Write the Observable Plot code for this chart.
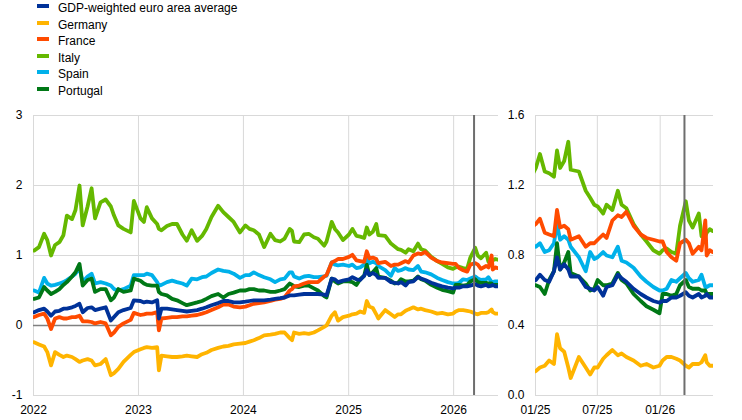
<!DOCTYPE html>
<html>
<head>
<meta charset="utf-8">
<script src="https://cdn.jsdelivr.net/npm/d3@7"></script>
<script src="https://cdn.jsdelivr.net/npm/@observablehq/plot@0.6"></script>
<style>
  html, body { margin: 0; padding: 0; background: #fff; }
  #wrap { position: relative; width: 742px; height: 420px; font-family: "Liberation Sans", Arial, sans-serif; font-size: 12px; color: #000; }
  #legend { position: absolute; left: 0; top: 0; width: 742px; height: 100px; }
  .row { position: absolute; left: 58px; height: 16.5px; line-height: 16.5px; white-space: nowrap; }
  .sw { position: absolute; left: 37px; width: 12px; height: 4px; }
  #charts { position: absolute; left: 0; top: 100px; display: flex; }
</style>
</head>
<body>
<div id="wrap">
  <div id="legend"></div>
  <div id="charts"></div>
</div>
<script>
const seriesNames = ["GDP-weighted euro area average", "Germany", "France", "Italy", "Spain", "Portugal"];
const seriesColors = ["#003299", "#FFB400", "#FF4B00", "#65B800", "#00B1EA", "#007816"];

const dates = [
"2022-01-03","2022-01-20","2022-02-07","2022-02-18","2022-03-03","2022-03-17","2022-04-01","2022-04-15","2022-04-27","2022-05-15",
"2022-05-27","2022-06-10","2022-06-21","2022-07-08","2022-07-22","2022-08-03","2022-08-22","2022-09-09","2022-09-27","2022-10-08",
"2022-10-23","2022-11-10","2022-12-05","2022-12-16","2023-01-08","2023-01-20","2023-01-30","2023-02-17","2023-03-07","2023-03-13",
"2023-03-22","2023-04-10","2023-04-28","2023-05-15","2023-06-03","2023-06-18","2023-07-05","2023-07-24","2023-08-10","2023-08-25",
"2023-09-12","2023-10-05","2023-10-23","2023-11-10","2023-11-28","2023-12-20","2024-01-08","2024-01-22","2024-02-06","2024-02-24",
"2024-03-13","2024-04-04","2024-04-20","2024-05-08","2024-05-23","2024-06-10","2024-06-18","2024-06-25","2024-07-13","2024-07-30",
"2024-08-15","2024-09-02","2024-09-16","2024-10-08","2024-10-16","2024-11-03","2024-11-14","2024-11-25","2024-12-12","2025-01-02",
"2025-01-14","2025-01-28","2025-02-10","2025-02-24","2025-03-05","2025-03-14","2025-03-26","2025-04-07","2025-04-14","2025-05-08",
"2025-05-28","2025-06-10","2025-06-22","2025-07-02","2025-07-18","2025-07-28","2025-08-14","2025-08-30","2025-09-10","2025-09-24",
"2025-10-15","2025-11-05","2025-11-22","2025-12-12","2025-12-30","2026-01-08","2026-01-20","2026-02-03","2026-02-17","2026-02-28",
"2026-03-17","2026-03-26","2026-04-06","2026-04-24","2026-05-02","2026-05-13","2026-05-17","2026-05-26","2026-06-04"
];

const euroArea = [
0.19,0.22,0.24,0.20,0.14,0.20,0.21,0.24,0.24,0.26,
0.28,0.31,0.19,0.25,0.26,0.22,0.24,0.26,0.07,0.12,
0.19,0.22,0.25,0.36,0.35,0.33,0.34,0.33,0.36,0.10,
0.24,0.24,0.23,0.22,0.21,0.20,0.21,0.22,0.24,0.26,
0.29,0.32,0.35,0.35,0.33,0.33,0.34,0.35,0.36,0.36,
0.36,0.37,0.38,0.39,0.40,0.43,0.43,0.43,0.44,0.45,
0.45,0.45,0.45,0.44,0.43,0.67,0.66,0.62,0.64,0.66,
0.69,0.66,0.65,0.71,0.79,0.72,0.75,0.72,0.68,0.68,
0.62,0.61,0.60,0.62,0.57,0.62,0.63,0.69,0.67,0.65,
0.61,0.58,0.56,0.54,0.53,0.54,0.54,0.56,0.56,0.57,
0.59,0.57,0.56,0.58,0.56,0.57,0.58,0.56,0.56
];
const germany = [
-0.24,-0.27,-0.30,-0.38,-0.57,-0.38,-0.42,-0.45,-0.43,-0.45,
-0.48,-0.52,-0.50,-0.48,-0.50,-0.57,-0.55,-0.48,-0.71,-0.68,
-0.62,-0.52,-0.42,-0.38,-0.34,-0.32,-0.31,-0.32,-0.31,-0.64,
-0.43,-0.44,-0.45,-0.45,-0.44,-0.43,-0.44,-0.45,-0.41,-0.39,
-0.35,-0.32,-0.30,-0.29,-0.27,-0.26,-0.25,-0.23,-0.21,-0.18,
-0.14,-0.13,-0.12,-0.10,-0.10,-0.18,-0.21,-0.10,-0.12,-0.11,
-0.12,-0.10,-0.07,-0.02,0.00,0.14,0.19,0.07,0.12,0.14,
0.16,0.17,0.20,0.18,0.35,0.27,0.25,0.16,0.10,0.22,
0.16,0.12,0.16,0.16,0.21,0.23,0.26,0.23,0.24,0.22,
0.20,0.17,0.18,0.16,0.17,0.20,0.22,0.22,0.21,0.20,
0.17,0.16,0.18,0.18,0.19,0.23,0.19,0.17,0.17
];
const france = [
0.12,0.15,0.17,0.10,-0.05,0.10,0.12,0.10,0.10,0.12,
0.12,0.14,0.06,0.06,0.05,0.03,0.05,0.03,-0.14,-0.10,
-0.02,0.03,0.08,0.18,0.15,0.16,0.17,0.17,0.19,-0.07,
0.10,0.11,0.12,0.12,0.13,0.13,0.14,0.15,0.17,0.19,
0.22,0.26,0.30,0.30,0.27,0.26,0.27,0.29,0.31,0.32,
0.33,0.35,0.37,0.38,0.40,0.50,0.52,0.56,0.57,0.60,
0.62,0.62,0.62,0.70,0.72,0.90,0.92,0.95,0.95,0.98,
1.01,0.93,0.92,0.91,1.06,0.96,0.97,0.95,0.89,0.91,
0.85,0.87,0.87,0.89,0.92,0.90,1.00,1.03,1.02,1.05,
0.97,0.92,0.90,0.89,0.88,0.88,0.82,0.79,0.77,0.87,
0.89,0.87,0.81,0.85,0.83,1.00,0.80,0.83,0.82
];
const italy = [
1.07,1.12,1.31,1.22,1.00,1.15,1.19,1.29,1.57,1.52,
1.65,2.00,1.43,1.70,1.96,1.53,1.76,1.80,1.70,1.57,
1.43,1.38,1.33,1.78,1.53,1.48,1.69,1.53,1.45,1.38,
1.36,1.42,1.45,1.45,1.30,1.21,1.36,1.21,1.28,1.38,
1.55,1.71,1.62,1.55,1.48,1.33,1.43,1.38,1.36,1.30,
1.12,1.31,1.22,1.20,1.24,1.38,1.35,1.20,1.19,1.30,
1.31,1.26,1.24,1.14,1.20,1.48,1.38,1.33,1.22,1.30,
1.38,1.28,1.27,1.25,1.40,1.30,1.34,1.45,1.29,1.28,
1.17,1.13,1.09,1.08,1.04,1.09,1.06,1.17,1.09,1.07,
0.98,0.92,0.88,0.83,0.81,0.83,0.84,0.82,0.81,0.97,
1.11,1.00,0.96,1.04,0.91,0.91,0.93,0.95,0.94
];
const spain = [
0.50,0.47,0.68,0.60,0.57,0.58,0.60,0.62,0.65,0.70,
0.74,0.82,0.62,0.70,0.74,0.60,0.62,0.60,0.57,0.52,
0.50,0.52,0.57,0.72,0.72,0.72,0.74,0.72,0.62,0.57,
0.58,0.62,0.64,0.62,0.60,0.57,0.67,0.66,0.69,0.70,
0.75,0.80,0.78,0.77,0.74,0.68,0.72,0.72,0.76,0.72,
0.69,0.66,0.62,0.66,0.67,0.76,0.76,0.70,0.67,0.70,
0.71,0.69,0.69,0.70,0.71,0.90,0.87,0.86,0.87,0.85,
0.87,0.82,0.83,0.87,0.98,0.89,0.91,0.89,0.85,0.79,
0.71,0.82,0.78,0.79,0.82,0.80,0.79,0.85,0.77,0.76,
0.73,0.68,0.65,0.62,0.60,0.60,0.61,0.66,0.65,0.67,
0.70,0.67,0.65,0.66,0.69,0.62,0.62,0.63,0.63
];
const portugal = [
0.38,0.40,0.55,0.50,0.45,0.48,0.52,0.58,0.62,0.70,
0.76,0.88,0.57,0.65,0.67,0.48,0.52,0.52,0.36,0.40,
0.52,0.48,0.50,0.67,0.64,0.60,0.58,0.57,0.57,0.48,
0.45,0.43,0.38,0.36,0.32,0.29,0.31,0.33,0.35,0.38,
0.42,0.45,0.40,0.45,0.47,0.50,0.50,0.52,0.52,0.50,
0.50,0.48,0.48,0.50,0.52,0.60,0.58,0.56,0.55,0.57,
0.57,0.53,0.50,0.42,0.40,0.67,0.63,0.60,0.63,0.63,
0.62,0.58,0.66,0.71,0.87,0.72,0.76,0.82,0.70,0.68,
0.64,0.60,0.61,0.66,0.63,0.63,0.64,0.70,0.66,0.64,
0.58,0.54,0.51,0.49,0.47,0.58,0.58,0.57,0.58,0.63,
0.66,0.62,0.61,0.61,0.60,0.60,0.58,0.58,0.58
];

const leftYTicks = [-1, 0, 1, 2, 3];
const leftYLabels = ["-1", "0", "1", "2", "3"];
const rightYTicks = [0, 0.4, 0.8, 1.2, 1.6];
const rightYLabels = ["0.0", "0.4", "0.8", "1.2", "1.6"];
const leftXTicks = ["2022-01-01","2023-01-01","2024-01-01","2025-01-01","2026-01-01"];
const leftXLabels = ["2022","2023","2024","2025","2026"];
const rightXTicks = ["2025-01-01","2025-07-01","2026-01-01"];
const rightXLabels = ["01/25","07/25","01/26"];
const markerDate = "2026-03-13";
const endDate = "2026-06-06";

// build table
const valuesBySeries = [euroArea, germany, france, italy, spain, portugal];
const drawOrder = [3, 4, 5, 2, 1, 0];
const rows = [];
for (const s of drawOrder) {
  dates.forEach((d, i) => rows.push({date: new Date(d), value: valuesBySeries[s][i], name: seriesNames[s]}));
}

// legend
const legend = document.getElementById("legend");
seriesNames.forEach((n, i) => {
  const sw = document.createElement("div");
  sw.className = "sw";
  sw.style.top = (i * 16.5 + 4) + "px";
  sw.style.background = seriesColors[i];
  legend.appendChild(sw);
  const t = document.createElement("div");
  t.className = "row";
  t.style.top = (i * 16.5) + "px";
  t.textContent = n;
  legend.appendChild(t);
});

function panel({width, marginLeft, marginRight, start, yDomain, yTicks, yLabels, xTicks, xLabels, zero}) {
  const xd = [new Date(start), new Date(endDate)];
  const xt = xTicks.map(d => new Date(d));
  const xFmt = d => xLabels[xt.findIndex(t => +t === +d)];
  const yFmt = d => yLabels[yTicks.indexOf(d)];
  const marks = [
    Plot.ruleY(yTicks, {stroke: "#d9d9d9", strokeWidth: 1}),
    Plot.ruleX(xt, {stroke: "#d9d9d9", strokeWidth: 1}),
  ];
  if (zero) marks.push(Plot.ruleY([{y: 0, x1: xd[0], x2: new Date(markerDate)}], {y: "y", x1: "x1", x2: "x2", stroke: "#808080", strokeWidth: 1.5}));
  marks.push(
    Plot.line(rows, {x: "date", y: "value", z: "name", stroke: "name", strokeWidth: 3.8, clip: true, strokeLinejoin: "round"}),
    Plot.ruleX([new Date(markerDate)], {stroke: "#6e6e6e", strokeWidth: 2}),
    Plot.axisX(xt, {tickSize: 0, tickPadding: 10, tickFormat: xFmt, label: null, fontSize: 12}),
    Plot.axisY(yTicks, {tickSize: 0, tickPadding: 11, tickFormat: yFmt, label: null, fontSize: 12})
  );
  return Plot.plot({
    width, height: 320,
    marginTop: 15, marginBottom: 25, marginLeft, marginRight,
    style: {fontFamily: "'Liberation Sans', Arial, sans-serif", fontSize: "12px", color: "#000", background: "#fff", overflow: "visible"},
    x: {type: "utc", domain: xd},
    y: {domain: yDomain},
    color: {domain: seriesNames, range: seriesColors},
    marks
  });
}

const charts = document.getElementById("charts");
charts.appendChild(panel({
  width: 510, marginLeft: 33, marginRight: 12, start: "2022-01-01",
  yDomain: [-1, 3], yTicks: leftYTicks, yLabels: leftYLabels, xTicks: leftXTicks, xLabels: leftXLabels, zero: true
}));
charts.appendChild(panel({
  width: 232, marginLeft: 25, marginRight: 29, start: "2025-01-01",
  yDomain: [0, 1.6], yTicks: rightYTicks, yLabels: rightYLabels, xTicks: rightXTicks, xLabels: rightXLabels, zero: false
}));
</script>
</body>
</html>
